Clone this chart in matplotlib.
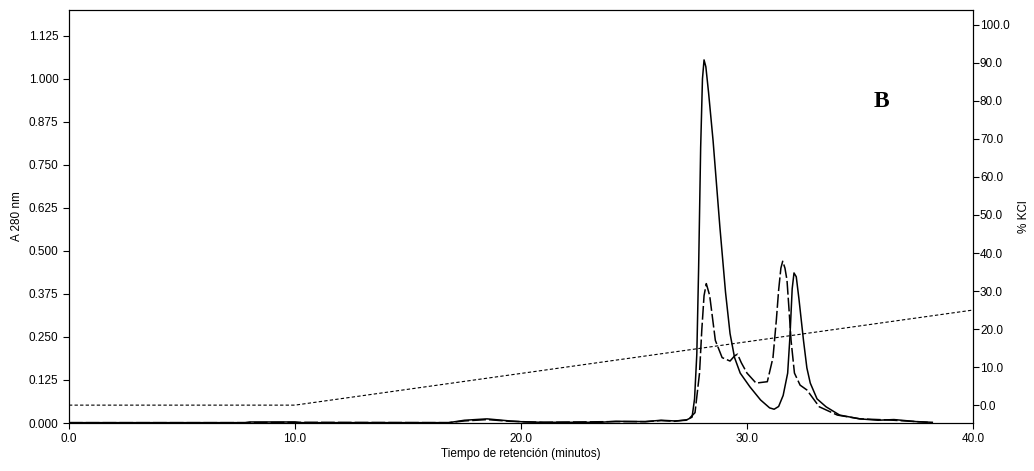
import matplotlib
matplotlib.use("Agg")
import matplotlib.pyplot as plt
from matplotlib.ticker import FormatStrFormatter

plt.rcParams['font.family'] = ['Liberation Sans', 'DejaVu Sans']

# traza continua (A 280 nm)
t_solida = [0, 7.8, 8.0, 10.0, 10.2, 16.8, 17.5, 18.5, 19.5, 20.2, 21, 23.5, 24.2, 25.5,
            26.2, 26.8, 27.3, 27.57, 27.68, 27.78, 27.86, 27.95, 28.03, 28.1, 28.18,
            28.3, 28.5, 28.8, 29.05, 29.25, 29.45, 29.7, 30.13, 30.6, 31.0, 31.2, 31.4,
            31.6, 31.8, 31.9, 32.0, 32.08, 32.18, 32.3, 32.5, 32.65, 32.8, 33.1, 33.5,
            34.1, 35.0, 35.8, 36.5, 37.5, 38.2]
a_solida = [0.001, 0.001, 0.003, 0.003, 0.001, 0.001, 0.008, 0.012, 0.006, 0.003, 0.002,
            0.002, 0.005, 0.004, 0.008, 0.006, 0.008, 0.017, 0.07, 0.2, 0.45, 0.8, 1.0,
            1.055, 1.035, 0.96, 0.82, 0.57, 0.38, 0.26, 0.19, 0.145, 0.105, 0.067, 0.044,
            0.04, 0.048, 0.08, 0.145, 0.25, 0.39, 0.436, 0.425, 0.36, 0.24, 0.16, 0.116,
            0.07, 0.047, 0.023, 0.012, 0.008, 0.01, 0.004, 0.002]

# traza discontinua (A 280 nm)
t_disc = [0, 7.8, 10.0, 16.8, 17.5, 18.5, 19.5, 21, 24.0, 25.5, 26.2, 26.8, 27.4, 27.7,
          27.9, 28.0, 28.1, 28.2, 28.35, 28.6, 28.9, 29.25, 29.45, 29.58, 29.75, 30.0,
          30.4, 30.9, 31.15, 31.3, 31.4, 31.5, 31.58, 31.68, 31.77, 31.87, 31.95, 32.1,
          32.35, 32.65, 33.2, 34.0, 35.0, 35.8, 36.5, 38.0]
a_disc = [0.001, 0.001, 0.002, 0.001, 0.006, 0.01, 0.005, 0.002, 0.004, 0.004, 0.007,
          0.005, 0.01, 0.03, 0.145, 0.27, 0.37, 0.405, 0.37, 0.24, 0.19, 0.18, 0.195,
          0.2, 0.175, 0.145, 0.116, 0.12, 0.19, 0.3, 0.386, 0.45, 0.47, 0.45, 0.415,
          0.32, 0.24, 0.145, 0.11, 0.096, 0.047, 0.023, 0.012, 0.01, 0.008, 0.002]

# gradiente de KCl (%)
t_grad = [0, 10, 40]
kcl = [0, 0, 25]

fig = plt.figure(figsize=(10.34, 4.71), dpi=100)
ax = fig.add_axes([0.0667, 0.1019, 0.8743, 0.8769])
ax.plot(t_solida, a_solida, color="black", lw=1.1)
ax.plot(t_disc, a_disc, color="black", lw=1.1, dashes=(9, 2))
ax.set_xlim(0, 40)
ax.set_ylim(0, 1.2)
ax.set_xticks([0, 10, 20, 30, 40])
ax.set_yticks([0, 0.125, 0.25, 0.375, 0.5, 0.625, 0.75, 0.875, 1.0, 1.125])
ax.xaxis.set_major_formatter(FormatStrFormatter('%.1f'))
ax.yaxis.set_major_formatter(FormatStrFormatter('%.3f'))
ax.tick_params(labelsize=8.5, length=4, width=0.8)
ax.set_xlabel("Tiempo de retención (minutos)", fontsize=8.5, labelpad=2)
ax.set_ylabel("A 280 nm", fontsize=8.5, labelpad=4)

ax2 = ax.twinx()
ax2.plot(t_grad, kcl, color="black", lw=0.8, dashes=(3, 2))
ax2.set_ylim(-4.7, 103.9)
ax2.set_yticks([0, 10, 20, 30, 40, 50, 60, 70, 80, 90, 100])
ax2.yaxis.set_major_formatter(FormatStrFormatter('%.1f'))
ax2.tick_params(labelsize=8.5, length=4, width=0.8, pad=1)
ax2.set_ylabel("% KCl", fontsize=8.5, labelpad=6)

for a in (ax, ax2):
    for s in a.spines.values():
        s.set_linewidth(0.8)

fig.text(0.845, 0.772, "B", fontsize=17, fontweight="bold", family="Liberation Serif")

fig.savefig("out.png", dpi=100)
